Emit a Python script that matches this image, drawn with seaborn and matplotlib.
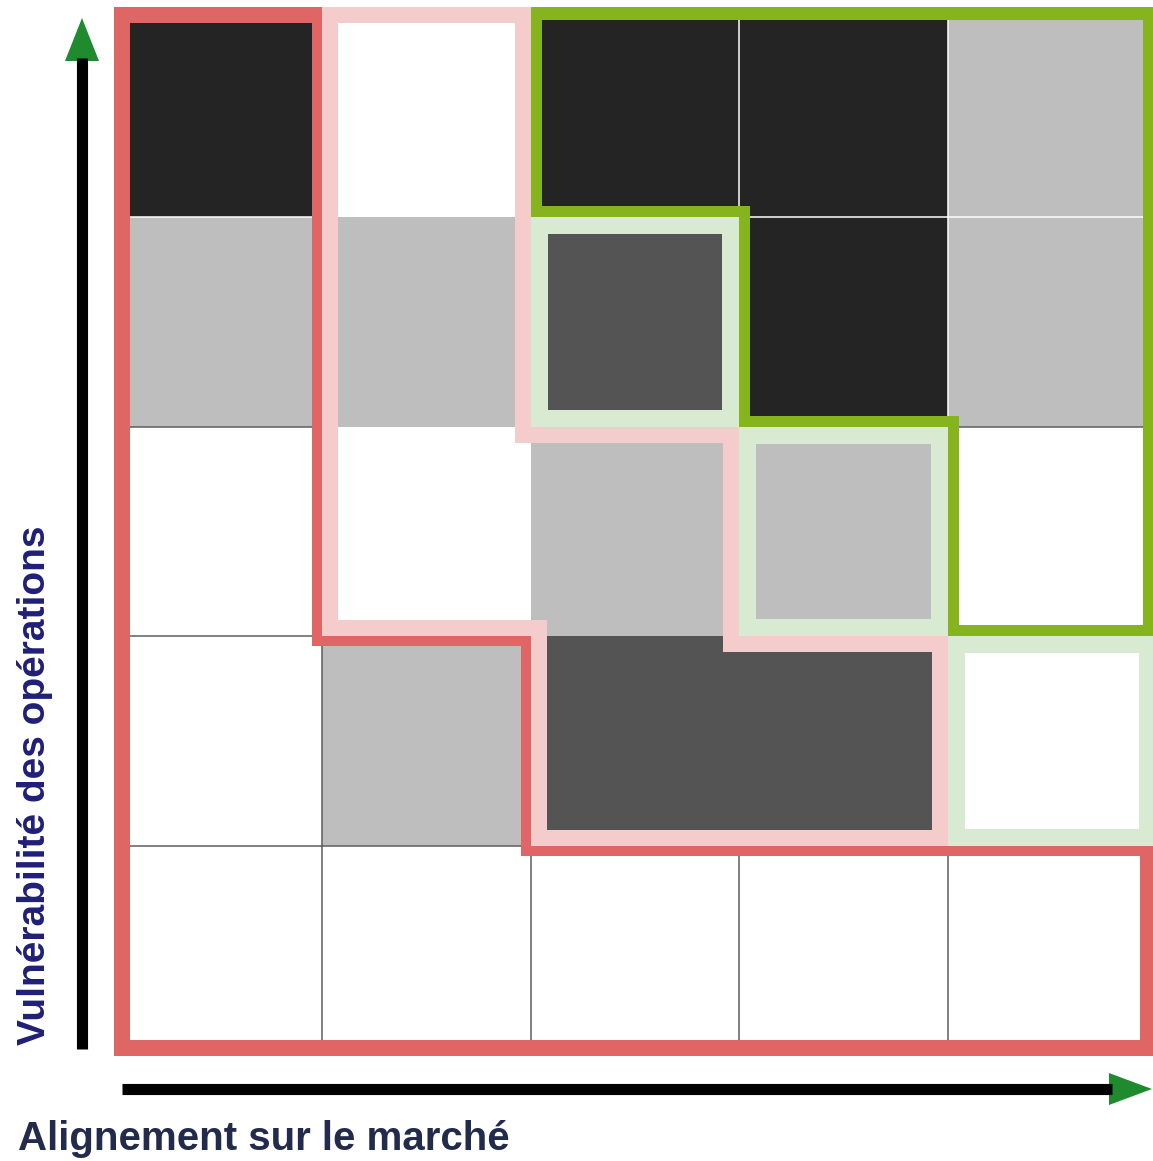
import numpy as np
import pandas as pd
import seaborn as sns
import matplotlib.pyplot as plt
from matplotlib.colors import ListedColormap
from matplotlib.patches import Rectangle, Polygon

# niveaux des cases (0 blanc, 1 gris clair, 2 gris foncé, 3 noir), ligne du haut en premier
row0 = [3, 0, 3, 3, 1]
row1 = [1, 1, 2, 3, 1]
row2 = [0, 0, 1, 1, 0]
row3 = [0, 1, 2, 2, 0]
row4 = [0, 0, 0, 0, 0]
levels = [row0, row1, row2, row3, row4]
level_colors = ['#ffffff', '#bebebe', '#545454', '#242424']

# zones entourées (R rouge, P rose, G vert, L vert pâle)
zone0 = ['R', 'P', 'G', 'G', 'G']
zone1 = ['R', 'P', 'L', 'G', 'G']
zone2 = ['R', 'P', 'P', 'L', 'G']
zone3 = ['R', 'R', 'P', 'P', 'L']
zone4 = ['R', 'R', 'R', 'R', 'R']
zones = [zone0, zone1, zone2, zone3, zone4]

zone_color = {'R': '#e06666', 'P': '#f4cccc', 'G': '#86b41c', 'L': '#d9ead3'}
# épaisseur du trait en pixels : (bord extérieur, bord intérieur)
zone_width = {'R': (16, 10), 'P': (16, 16), 'G': (13, 11), 'L': (17, 17)}
# zones où les cases sont séparées par un trait fin
zones_with_grid = ['R', 'G']

xlabel = 'Alignement sur le marché'
ylabel = 'Vulnérabilité des opérations'

W, H = 1153, 1161
fig = plt.figure(figsize=(W / 100, H / 100), dpi=100)

# fond pour flèches et textes, en pixels
ov = fig.add_axes([0, 0, 1, 1])
ov.set_xlim(0, W)
ov.set_ylim(H, 0)
ov.axis('off')

gx0, gx1, gy0, gy1 = 114, 1156, 7, 1056
ax = fig.add_axes([gx0 / W, (H - gy1) / H, (gx1 - gx0) / W, (gy1 - gy0) / H])

df = pd.DataFrame(levels)
sns.heatmap(df, cmap=ListedColormap(level_colors), vmin=-0.5, vmax=3.5, cbar=False,
            xticklabels=False, yticklabels=False, linewidths=0, ax=ax)
nr, nc = df.shape
ax.set_xlim(0, nc)
ax.set_ylim(nr, 0)
ax.set_axis_off()

px_x = nc / (gx1 - gx0)
px_y = nr / (gy1 - gy0)

# traits fins entre cases d'une même zone
for r in range(nr):
    for c in range(nc):
        for dr, dc in [(0, 1), (1, 0)]:
            r2, c2 = r + dr, c + dc
            if r2 >= nr or c2 >= nc or zones[r][c] != zones[r2][c2]:
                continue
            if zones[r][c] not in zones_with_grid:
                continue
            col = 'white' if levels[r][c] > 0 and levels[r2][c2] > 0 else '#5e5e5e'
            if dc:
                ax.plot([c + 1, c + 1], [r, r + 1], color=col, lw=1.1, zorder=2)
            else:
                ax.plot([c, c + 1], [r + 1, r + 1], color=col, lw=1.1, zorder=2)


def inside(r, c):
    return 0 <= r < nr and 0 <= c < nc


# contours des zones, tracés à l'intérieur de chaque zone
for z in ['R', 'P', 'G', 'L']:
    colr = zone_color[z]
    w_out, w_in = zone_width[z]
    for r in range(nr):
        for c in range(nc):
            if zones[r][c] != z:
                continue
            for dr, dc in [(-1, 0), (1, 0), (0, -1), (0, 1)]:
                r2, c2 = r + dr, c + dc
                if inside(r2, c2) and zones[r2][c2] == z:
                    continue
                wpx = w_in if inside(r2, c2) else w_out
                wx, wy = wpx * px_x, wpx * px_y
                if dr == -1:
                    rect = Rectangle((c, r), 1, wy)
                elif dr == 1:
                    rect = Rectangle((c, r + 1 - wy), 1, wy)
                elif dc == -1:
                    rect = Rectangle((c, r), wx, 1)
                else:
                    rect = Rectangle((c + 1 - wx, r), wx, 1)
                rect.set_color(colr)
                rect.set_linewidth(0)
                rect.set_zorder(3)
                ax.add_patch(rect)
            # coins rentrants
            for dr in (-1, 1):
                for dc in (-1, 1):
                    if (inside(r + dr, c) and zones[r + dr][c] == z and
                            inside(r, c + dc) and zones[r][c + dc] == z and
                            zones[r + dr][c + dc] != z):
                        wx, wy = w_in * px_x, w_in * px_y
                        x0 = c if dc == -1 else c + 1 - wx
                        y0 = r if dr == -1 else r + 1 - wy
                        ax.add_patch(Rectangle((x0, y0), wx, wy, color=colr, lw=0, zorder=3))

# flèches des axes
arrow_green = '#1f8a2e'
ov.plot([82, 82], [1049, 58], color='black', lw=8, solid_capstyle='butt')
ov.add_patch(Polygon([[65, 61], [99, 61], [82, 18]], closed=True, color=arrow_green, lw=0))
ov.plot([122, 1112], [1089, 1089], color='black', lw=8, solid_capstyle='butt')
ov.add_patch(Polygon([[1109, 1073], [1109, 1105], [1152, 1089]], closed=True, color=arrow_green, lw=0))

ov.text(18, 1150, xlabel, fontsize=29, fontweight='bold', color='#232b4d',
        family=['Liberation Sans', 'DejaVu Sans'], ha='left', va='baseline')
ov.text(35, 1045, ylabel, fontsize=28, fontweight='bold', color='#1f1f78', rotation=90,
        family=['Liberation Sans', 'DejaVu Sans'], ha='center', va='bottom')

fig.savefig('out.png', dpi=100)
